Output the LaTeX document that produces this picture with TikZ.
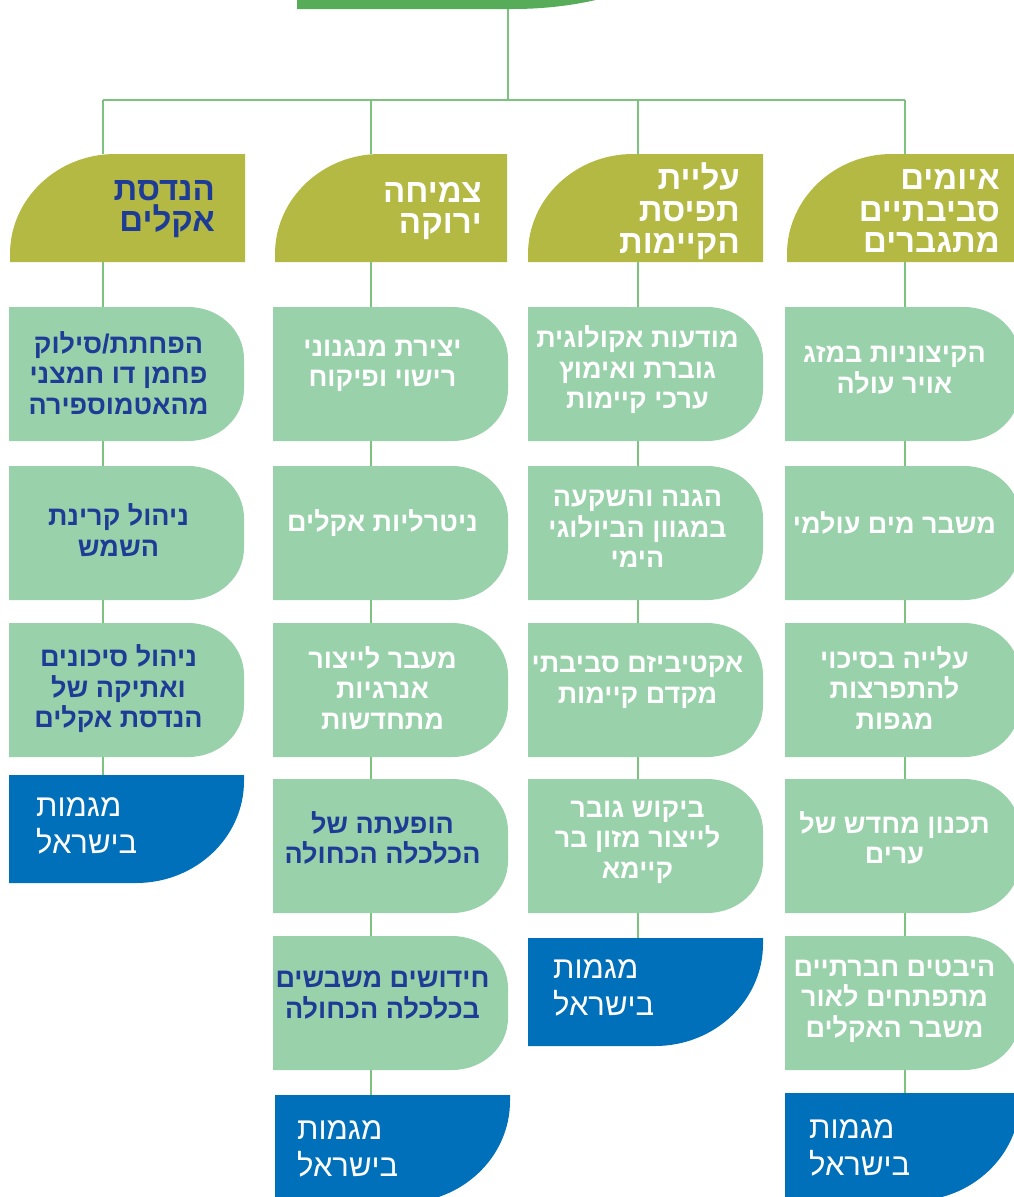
\documentclass[tikz,border=0pt]{standalone}
\usepackage{fontspec}
\usetikzlibrary{calc}
\TeXXeTstate=1
\newfontfamily\hebfont[Script=Hebrew]{Liberation Sans}
\definecolor{topgreen}{RGB}{86,172,88}
\definecolor{linegreen}{RGB}{125,195,128}
\definecolor{olivec}{RGB}{179,185,66}
\definecolor{boxgreen}{RGB}{152,209,170}
\definecolor{bluec}{RGB}{0,112,186}
\definecolor{darkbluec}{RGB}{30,60,150}
\newcommand{\heb}[1]{\beginR #1\endR}
\newcommand{\mkframe}[5]{\node[frame, minimum width={#4-#2}, minimum height={#5-#3}] (#1) at ({(#2+#4)/2},{(#3+#5)/2}) {};}
\newcommand{\dshape}[4]{\fill[boxgreen] (#1,#2) -- ({#3-56},#2) .. controls ({#3-25},#2) and (#3,{#2+23}) .. (#3,{#2+52}) -- (#3,{#4-52}) .. controls (#3,{#4-23}) and ({#3-25},#4) .. ({#3-56},#4) -- (#1,#4) -- cycle;}
\newcommand{\hshape}[4]{\fill[olivec] (#1,#4) -- (#1,{#2+100}) .. controls (#1,{#2+45}) and ({#1+47},#2) .. ({#1+105},#2) -- (#3,#2) -- (#3,#4) -- cycle;}
\newcommand{\bshape}[4]{\fill[bluec] (#1,#2) -- (#3,#2) -- (#3,{#4-102}) .. controls (#3,{#4-46}) and ({#3-48},#4) .. ({#3-108},#4) -- (#1,#4) -- cycle;}
\tikzset{
  frame/.style={rectangle, draw=none, inner sep=0pt, outer sep=0pt},
  conn/.style={draw=linegreen, line width=1.8pt},
  boxtxt/.style={font=\hebfont\bfseries\fontsize{27}{30.5}\selectfont, align=center, inner sep=0pt},
  hdrtxt/.style={font=\hebfont\bfseries\fontsize{33}{31.8}\selectfont, align=right, inner sep=0pt, anchor=east},
  bluetxt/.style={font=\hebfont\fontsize{31}{37}\selectfont, align=left, inner sep=0pt, anchor=west, text=white},
  wt/.style={text=white},
  db/.style={text=darkbluec}
}
\begin{document}
\begin{tikzpicture}[x=1pt,y=-1pt]
\useasboundingbox (0,0) rectangle (1014,1197);
\clip (0,0) rectangle (1014,1197);
% frames (named anchors for shapes)
\mkframe{top}{297}{-120}{713}{9}
\mkframe{h1}{10}{154}{245}{262}
\mkframe{h2}{275}{154}{507}{262}
\mkframe{h3}{528}{154}{763}{262}
\mkframe{h4}{787}{154}{1022}{262}
\mkframe{b11}{9}{307}{244}{441}
\mkframe{b12}{9}{466}{244}{600}
\mkframe{b13}{9}{623}{244}{757}
\mkframe{m1}{9}{775}{244}{883}
\mkframe{b21}{273}{307}{508}{441}
\mkframe{b22}{273}{466}{508}{600}
\mkframe{b23}{273}{623}{508}{757}
\mkframe{b24}{273}{779}{508}{913}
\mkframe{b25}{273}{936}{508}{1070}
\mkframe{m2}{275}{1095}{510}{1203}
\mkframe{b31}{528}{307}{763}{441}
\mkframe{b32}{528}{466}{763}{600}
\mkframe{b33}{528}{623}{763}{757}
\mkframe{b34}{528}{779}{763}{913}
\mkframe{m3}{528}{938}{763}{1046}
\mkframe{b41}{785}{307}{1020}{441}
\mkframe{b42}{785}{466}{1020}{600}
\mkframe{b43}{785}{623}{1020}{757}
\mkframe{b44}{785}{779}{1020}{913}
\mkframe{b45}{785}{936}{1020}{1070}
\mkframe{m4}{785}{1093}{1020}{1201}
% connectors
\coordinate (jc) at (508,100);
\coordinate (j1) at (103,100);
\coordinate (j2) at (371,100);
\coordinate (j3) at (638,100);
\coordinate (j4) at (905,100);
\draw[conn] (top.south -| jc) -- (jc);
\draw[conn] (j1) -- (j4);
\draw[conn] (j1) -- (h1.north -| j1);
\draw[conn] (h1.south -| j1) -- (b11.north -| j1);
\draw[conn] (b11.south -| j1) -- (b12.north -| j1);
\draw[conn] (b12.south -| j1) -- (b13.north -| j1);
\draw[conn] (b13.south -| j1) -- (m1.north -| j1);
\draw[conn] (j2) -- (h2.north -| j2);
\draw[conn] (h2.south -| j2) -- (b21.north -| j2);
\draw[conn] (b21.south -| j2) -- (b22.north -| j2);
\draw[conn] (b22.south -| j2) -- (b23.north -| j2);
\draw[conn] (b23.south -| j2) -- (b24.north -| j2);
\draw[conn] (b24.south -| j2) -- (b25.north -| j2);
\draw[conn] (b25.south -| j2) -- (m2.north -| j2);
\draw[conn] (j3) -- (h3.north -| j3);
\draw[conn] (h3.south -| j3) -- (b31.north -| j3);
\draw[conn] (b31.south -| j3) -- (b32.north -| j3);
\draw[conn] (b32.south -| j3) -- (b33.north -| j3);
\draw[conn] (b33.south -| j3) -- (b34.north -| j3);
\draw[conn] (b34.south -| j3) -- (m3.north -| j3);
\draw[conn] (j4) -- (h4.north -| j4);
\draw[conn] (h4.south -| j4) -- (b41.north -| j4);
\draw[conn] (b41.south -| j4) -- (b42.north -| j4);
\draw[conn] (b42.south -| j4) -- (b43.north -| j4);
\draw[conn] (b43.south -| j4) -- (b44.north -| j4);
\draw[conn] (b44.south -| j4) -- (b45.north -| j4);
\draw[conn] (b45.south -| j4) -- (m4.north -| j4);
% top box
\fill[topgreen] (297,-120) -- (713,-120) -- (713,-91) .. controls (713,-36) and (623,9) .. (513,9) -- (297,9) -- cycle;
% headers
\hshape{10}{154}{245}{262}
\hshape{275}{154}{507}{262}
\hshape{528}{154}{763}{262}
\hshape{787}{154}{1022}{262}
% green boxes
\dshape{9}{307}{244}{441}
\dshape{9}{466}{244}{600}
\dshape{9}{623}{244}{757}
\dshape{273}{307}{508}{441}
\dshape{273}{466}{508}{600}
\dshape{273}{623}{508}{757}
\dshape{273}{779}{508}{913}
\dshape{273}{936}{508}{1070}
\dshape{528}{307}{763}{441}
\dshape{528}{466}{763}{600}
\dshape{528}{623}{763}{757}
\dshape{528}{779}{763}{913}
\dshape{785}{307}{1020}{441}
\dshape{785}{466}{1020}{600}
\dshape{785}{623}{1020}{757}
\dshape{785}{779}{1020}{913}
\dshape{785}{936}{1020}{1070}
% blue boxes
\bshape{9}{775}{244}{883}
\bshape{275}{1095}{510}{1203}
\bshape{528}{938}{763}{1046}
\bshape{785}{1093}{1020}{1201}
% header texts
\node[hdrtxt, db] (th1) at ($(h1.east)+(-30,1)$) {\heb{הנדסת}\\\heb{אקלים}};
\node[hdrtxt, wt] (th2) at ($(h2.east)+(-25,3)$) {\heb{צמיחה}\\\heb{ירוקה}};
\node[hdrtxt, wt] (th3) at ($(h3.east)+(-23,3)$) {\heb{עליית}\\\heb{תפיסת}\\\heb{הקיימות}};
\node[hdrtxt, wt] (th4) at ($(h4.east)+(-22,3)$) {\heb{איומים}\\\heb{סביבתיים}\\\heb{מתגברים}};
% box texts
\node[boxtxt, db] (t11) at ($(b11.center)+(-8,-1)$) {\heb{הפחתת/סילוק}\\\heb{פחמן דו חמצני}\\\heb{מהאטמוספירה}};
\node[boxtxt, db] (t12) at ($(b12.center)+(-8,-3)$) {\heb{ניהול קרינת}\\\heb{השמש}};
\node[boxtxt, db] (t13) at ($(b13.center)+(-8,-1)$) {\heb{ניהול סיכונים}\\\heb{ואתיקה של}\\\heb{הנדסת אקלים}};
\node[boxtxt, wt] (t21) at ($(b21.center)+(-8,-8)$) {\heb{יצירת מנגנוני}\\\heb{רישוי ופיקוח}};
\node[boxtxt, wt] (t22) at ($(b22.center)+(-8,-10)$) {\heb{ניטרליות אקלים}};
\node[boxtxt, wt] (t23) at ($(b23.center)+(-8,-2)$) {\heb{מעבר לייצור}\\\heb{אנרגיות}\\\heb{מתחדשות}};
\node[boxtxt, db] (t24) at ($(b24.center)+(-8,-8)$) {\heb{הופעתה של}\\\heb{הכלכלה הכחולה}};
\node[boxtxt, db] (t25) at ($(b25.center)+(-8,-8)$) {\heb{חידושים משבשים}\\\heb{בכלכלה הכחולה}};
\node[boxtxt, wt] (t31) at ($(b31.center)+(-8,-4)$) {\heb{מודעות אקולוגית}\\\heb{גוברת ואימוץ}\\\heb{ערכי קיימות}};
\node[boxtxt, wt] (t32) at ($(b32.center)+(-8,-4)$) {\heb{הגנה והשקעה}\\\heb{במגוון הביולוגי}\\\heb{הימי}};
\node[boxtxt, wt] (t33) at ($(b33.center)+(-8,-8)$) {\heb{אקטיביזם סביבתי}\\\heb{מקדם קיימות}};
\node[boxtxt, wt] (t34) at ($(b34.center)+(-8,-4)$) {\heb{ביקוש גובר}\\\heb{לייצור מזון בר}\\\heb{קיימא}};
\node[boxtxt, wt] (t41) at ($(b41.center)+(-8,-4)$) {\heb{הקיצוניות במזג}\\\heb{אויר עולה}};
\node[boxtxt, wt] (t42) at ($(b42.center)+(-8,-10)$) {\heb{משבר מים עולמי}};
\node[boxtxt, wt] (t43) at ($(b43.center)+(-8,-2)$) {\heb{עלייה בסיכוי}\\\heb{להתפרצות}\\\heb{מגפות}};
\node[boxtxt, wt] (t44) at ($(b44.center)+(-8,-8)$) {\heb{תכנון מחדש של}\\\heb{ערים}};
\node[boxtxt, wt] (t45) at ($(b45.center)+(-8,-2)$) {\heb{היבטים חברתיים}\\\heb{מתפתחים לאור}\\\heb{משבר האקלים}};
% blue texts
\node[bluetxt] (tm1) at ($(m1.north west)+(27,51)$) {\heb{מגמות}\\\heb{בישראל}};
\node[bluetxt] (tm2) at ($(m2.north west)+(22,54)$) {\heb{מגמות}\\\heb{בישראל}};
\node[bluetxt] (tm3) at ($(m3.north west)+(25,50)$) {\heb{מגמות}\\\heb{בישראל}};
\node[bluetxt] (tm4) at ($(m4.north west)+(24,55)$) {\heb{מגמות}\\\heb{בישראל}};
\end{tikzpicture}
\end{document}
